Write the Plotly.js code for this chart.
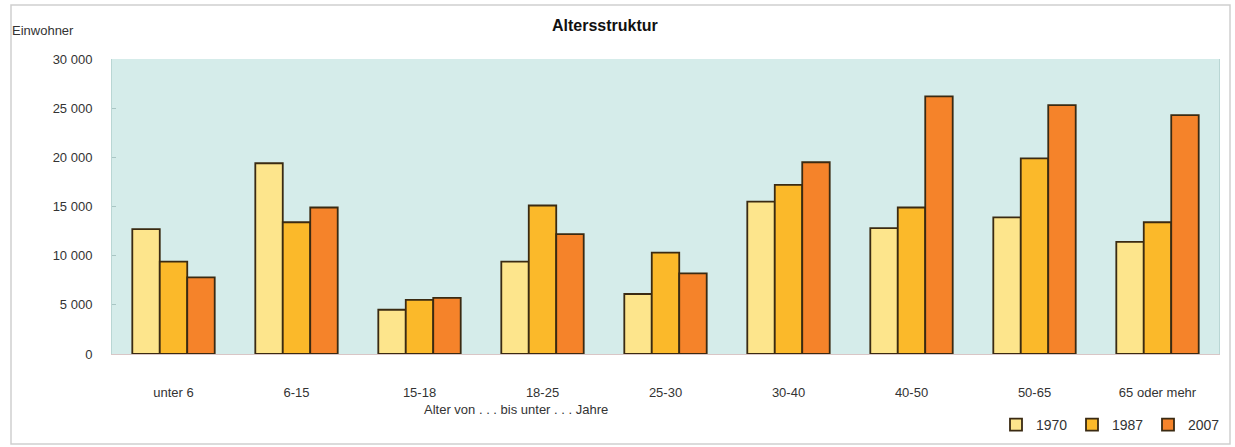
<!DOCTYPE html>
<html>
<head>
<meta charset="utf-8">
<script src="https://cdn.plot.ly/plotly-3.0.1.min.js"></script>
<style>
  html, body { margin: 0; padding: 0; background: #ffffff; }
  #chart { width: 1235px; height: 447px; }
</style>
</head>
<body>
<div id="chart"></div>
<script>
const categories = ["unter 6", "6-15", "15-18", "18-25", "25-30", "30-40", "40-50", "50-65", "65 oder mehr"];
const seriesNames = ["1970", "1987", "2007"];
const values1970 = [12700, 19400, 4500, 9400, 6100, 15500, 12800, 13900, 11400];
const values1987 = [9400, 13400, 5500, 15100, 10300, 17200, 14900, 19900, 13400];
const values2007 = [7800, 14900, 5700, 12200, 8200, 19500, 26200, 25300, 24300];
const yTicks = [0, 5000, 10000, 15000, 20000, 25000, 30000];

const FONT = "'Liberation Sans Narrow', 'Arial Narrow', 'Liberation Sans', Arial, sans-serif";
const colors = ["#fde58c", "#fbb92a", "#f5832a"];
const allValues = [values1970, values1987, values2007];

const traces = allValues.map((vals, i) => ({
  type: "bar",
  name: seriesNames[i],
  x: categories,
  y: vals,
  marker: { color: colors[i], line: { color: "#3a2a12", width: 1.8 } },
  hoverinfo: "x+y+name"
}));

const L = 112, R = 16, T = 59, B = 93, W = 1235, H = 447;
const pw = W - L - R, ph = H - T - B;
const px = v => (v - L) / pw;
const py = v => (H - B - v) / ph;

const layout = {
  width: W, height: H,
  margin: { l: L, r: R, t: T, b: B, autoexpand: false },
  paper_bgcolor: "#ffffff",
  plot_bgcolor: "#d5ecea",
  separators: ", ",
  font: { family: FONT, size: 13, color: "#333333" },
  barmode: "group",
  bargap: 0.33,
  bargroupgap: 0,
  showlegend: true,
  legend: {
    orientation: "h",
    x: px(996), y: py(425), xanchor: "left", yanchor: "middle",
    font: { family: FONT, size: 14, color: "#333333" },
    bgcolor: "rgba(0,0,0,0)",
    itemwidth: 30,
    entrywidth: 31,
    entrywidthmode: "pixels",
    tracegroupgap: 0,
    traceorder: "normal"
  },
  xaxis: {
    type: "category",
    tickfont: { family: FONT, size: 13, color: "#333333" },
    showgrid: false,
    showline: true, linecolor: "#d9c6c6", linewidth: 1,
    ticks: "", ticklabelstandoff: 26,
    zeroline: false,
    mirror: false
  },
  yaxis: {
    range: [0, 30000],
    tickvals: yTicks,
    tickformat: ",d",
    tickfont: { family: FONT, size: 13, color: "#333333" },
    showgrid: false,
    showline: true, linecolor: "#b9d6d4", linewidth: 1, mirror: true,
    ticks: "inside", ticklen: 4, tickcolor: "#a9c6c4",
    ticklabelstandoff: 16,
    zeroline: false
  },
  shapes: [
    { type: "rect", xref: "paper", yref: "paper",
      x0: px(11), x1: px(1230), y0: py(444), y1: py(5),
      line: { color: "#cfcfcf", width: 1.5 }, fillcolor: "rgba(0,0,0,0)", layer: "below" }
  ],
  annotations: [
    { text: "<b>Altersstruktur</b>", xref: "paper", yref: "paper",
      x: px(605), y: py(26), xanchor: "center", yanchor: "middle", showarrow: false,
      font: { family: FONT, size: 16, color: "#111111" } },
    { text: "Einwohner", xref: "paper", yref: "paper",
      x: px(10), y: py(30), xanchor: "left", yanchor: "middle", showarrow: false,
      font: { family: FONT, size: 13, color: "#333333" } },
    { text: "Alter von . . . bis unter . . . Jahre", xref: "paper", yref: "paper",
      x: px(516), y: py(409), xanchor: "center", yanchor: "middle", showarrow: false,
      font: { family: FONT, size: 13, color: "#333333" } }
  ]
};

Plotly.newPlot("chart", traces, layout, { displayModeBar: false, staticPlot: true });
</script>
</body>
</html>
